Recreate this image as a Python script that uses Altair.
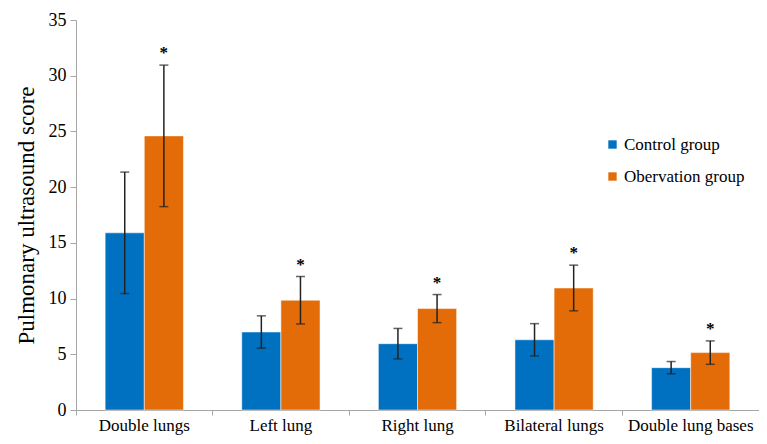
import altair as alt
import pandas as pd

categories = ["Double lungs", "Left lung", "Right lung", "Bilateral lungs", "Double lung bases"]
groups = ["Control group", "Obervation group"]
control_mean = [15.9, 7.0, 5.95, 6.3, 3.8]
control_err = [5.45, 1.45, 1.37, 1.45, 0.55]
obs_mean = [24.6, 9.85, 9.1, 10.95, 5.15]
obs_err = [6.35, 2.13, 1.26, 2.05, 1.05]
colors = ["#0070C0", "#E36C09"]
FONT = "Liberation Serif"

rows = []
for i, c in enumerate(categories):
    rows.append({"cat": c, "grp": groups[0], "mean": control_mean[i],
                 "lo": control_mean[i] - control_err[i], "hi": control_mean[i] + control_err[i], "star": ""})
    rows.append({"cat": c, "grp": groups[1], "mean": obs_mean[i],
                 "lo": obs_mean[i] - obs_err[i], "hi": obs_mean[i] + obs_err[i], "star": "*"})
df = pd.DataFrame(rows)

x = alt.X("cat:N", sort=categories, title=None,
          scale=alt.Scale(paddingInner=0.427, paddingOuter=0.2135),
          axis=alt.Axis(labelAngle=0, labelFont=FONT, labelFontSize=17, labelColor="black",
                        domainColor="#a6a6a6", tickColor="#a6a6a6", tickSize=5,
                        bandPosition=-0.3726, labelPadding=2))
xo = alt.XOffset("grp:N", sort=groups)

base = alt.Chart(df)

bars = base.mark_bar(stroke="white", strokeWidth=0.5).encode(
    x=x, xOffset=xo,
    y=alt.Y("mean:Q", title="Pulmonary ultrasound score",
            scale=alt.Scale(domain=[0, 35]),
            axis=alt.Axis(values=[0, 5, 10, 15, 20, 25, 30, 35], grid=False,
                          labelFont=FONT, labelFontSize=18, labelColor="black",
                          titleFont=FONT, titleFontSize=23, titleFontWeight="normal",
                          titleColor="black", titlePadding=10,
                          domainColor="#a6a6a6", tickColor="#a6a6a6", tickSize=6,
                          labelPadding=4)),
    color=alt.Color("grp:N", sort=groups,
                    scale=alt.Scale(domain=groups, range=colors),
                    legend=alt.Legend(title=None, orient="none", legendX=528, legendY=116,
                                      labelFont=FONT, labelFontSize=17, labelColor="black",
                                      symbolType="square", symbolSize=70, symbolStrokeWidth=0,
                                      rowPadding=14, labelOffset=3)),
)

rules = base.mark_rule(color="#222222", strokeWidth=1.5).encode(
    x=x, xOffset=xo, y="lo:Q", y2="hi:Q")
caps_hi = base.mark_tick(color="#222222", thickness=1.5, size=9).encode(
    x=x, xOffset=xo, y="hi:Q")
caps_lo = base.mark_tick(color="#222222", thickness=1.5, size=9).encode(
    x=x, xOffset=xo, y="lo:Q")
stars = base.mark_text(font=FONT, fontSize=17, fontWeight="bold", color="black",
                       dy=-3, baseline="bottom").encode(
    x=x, xOffset=xo, y="hi:Q", text="star:N")

chart = alt.layer(bars, rules, caps_hi, caps_lo, stars).properties(
    width=683, height=390,
    autosize=alt.AutoSizeParams(type="none"),
    padding={"left": 68, "top": 12, "right": 0, "bottom": 26},
).configure_view(stroke=None)

chart.save("out.html", embed_options={"renderer": "svg", "actions": False})
